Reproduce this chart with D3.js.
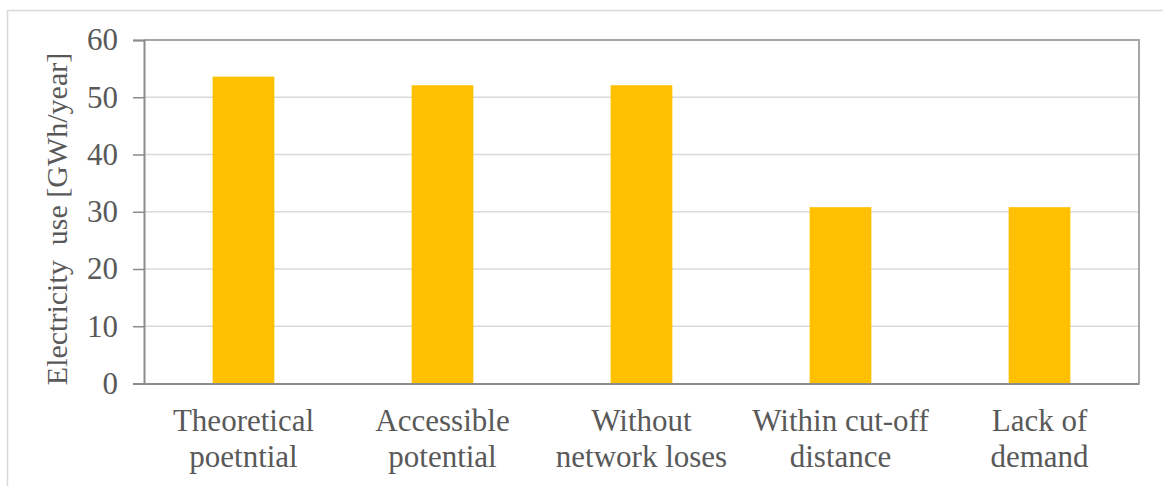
<!DOCTYPE html>
<html>
<head>
<meta charset="utf-8">
<script src="https://cdn.jsdelivr.net/npm/d3@7"></script>
<style>
  html, body { margin: 0; padding: 0; background: #fff; }
  svg { display: block; }
  .serif { font-family: "Liberation Serif", "Times New Roman", Tinos, "DejaVu Serif", serif; }
</style>
</head>
<body>
<svg id="chart" width="1163" height="486"></svg>
<script>
const categories = [["Theoretical", "poetntial"], ["Accessible", "potential"], ["Without", "network loses"], ["Within cut-off", "distance"], ["Lack of", "demand"]];
const values = [53.6, 52.1, 52.1, 30.8, 30.8];
const yTicks = [0, 10, 20, 30, 40, 50, 60];
const yTitle = "Electricity\u00a0\u00a0use [GWh/year]";

const svg = d3.select("#chart");
const W = 1163, H = 486;
const plot = { left: 144, right: 1139, top: 40, bottom: 383.5 };
const textColor = "#595959";

// outer frame
svg.append("path")
  .attr("d", `M7.5,${H + 2} L7.5,10.5 L${W + 2},10.5`)
  .attr("fill", "none").attr("stroke", "#d9d9d9").attr("stroke-width", 1.5);

const x = d3.scaleBand().domain(categories.map((d, i) => i))
  .range([plot.left, plot.right]).paddingInner(0.69).paddingOuter(0.345);
const y = d3.scaleLinear().domain([0, 60]).range([plot.bottom, plot.top]);

// gridlines
svg.append("g").selectAll("line").data(yTicks.filter(t => t > 0 && t < 60)).join("line")
  .attr("x1", plot.left).attr("x2", plot.right)
  .attr("y1", d => y(d)).attr("y2", d => y(d))
  .attr("stroke", "#d9d9d9").attr("stroke-width", 1.5);

// bars
svg.append("g").selectAll("rect").data(values).join("rect")
  .attr("x", (d, i) => x(i)).attr("width", x.bandwidth())
  .attr("y", d => y(d)).attr("height", d => y(0) - y(d))
  .attr("fill", "#FFC000");

// plot frame (top & right)
svg.append("path")
  .attr("d", `M${plot.left},${y(60)} L${plot.right},${y(60)} L${plot.right},${plot.bottom}`)
  .attr("fill", "none").attr("stroke", "#a6a6a6").attr("stroke-width", 2);

// y axis
const yAxis = d3.axisLeft(y).tickValues(yTicks).tickSize(11).tickPadding(15);
const gy = svg.append("g").attr("transform", `translate(${plot.left},0)`).call(yAxis);
gy.attr("font-family", null).attr("font-size", null);
gy.select(".domain").attr("stroke", "#8c8c8c").attr("stroke-width", 2);
gy.selectAll(".tick line").attr("stroke", "#8c8c8c").attr("stroke-width", 1.5);
gy.selectAll(".tick text").attr("class", "serif").attr("fill", textColor).style("font-size", "31px");

// x axis
const xAxis = d3.axisBottom(x).tickSize(0).tickFormat("");
const gx = svg.append("g").attr("transform", `translate(0,${plot.bottom})`).call(xAxis);
gx.attr("font-family", null).attr("font-size", null);
gx.select(".domain").attr("stroke", "#8c8c8c").attr("stroke-width", 2);
gx.selectAll(".tick").each(function(d) {
  const t = d3.select(this).append("text")
    .attr("class", "serif").attr("fill", textColor).style("font-size", "31px")
    .attr("text-anchor", "middle");
  categories[d].forEach((line, k) => {
    t.append("tspan").attr("x", 0).attr("y", 47 + k * 36).text(line);
  });
});

// y title
svg.append("text")
  .attr("class", "serif")
  .attr("transform", `translate(67,${(53 + 385) / 2}) rotate(-90)`)
  .attr("text-anchor", "middle")
  .attr("fill", textColor).style("font-size", "30px")
  .text(yTitle);
</script>
</body>
</html>
